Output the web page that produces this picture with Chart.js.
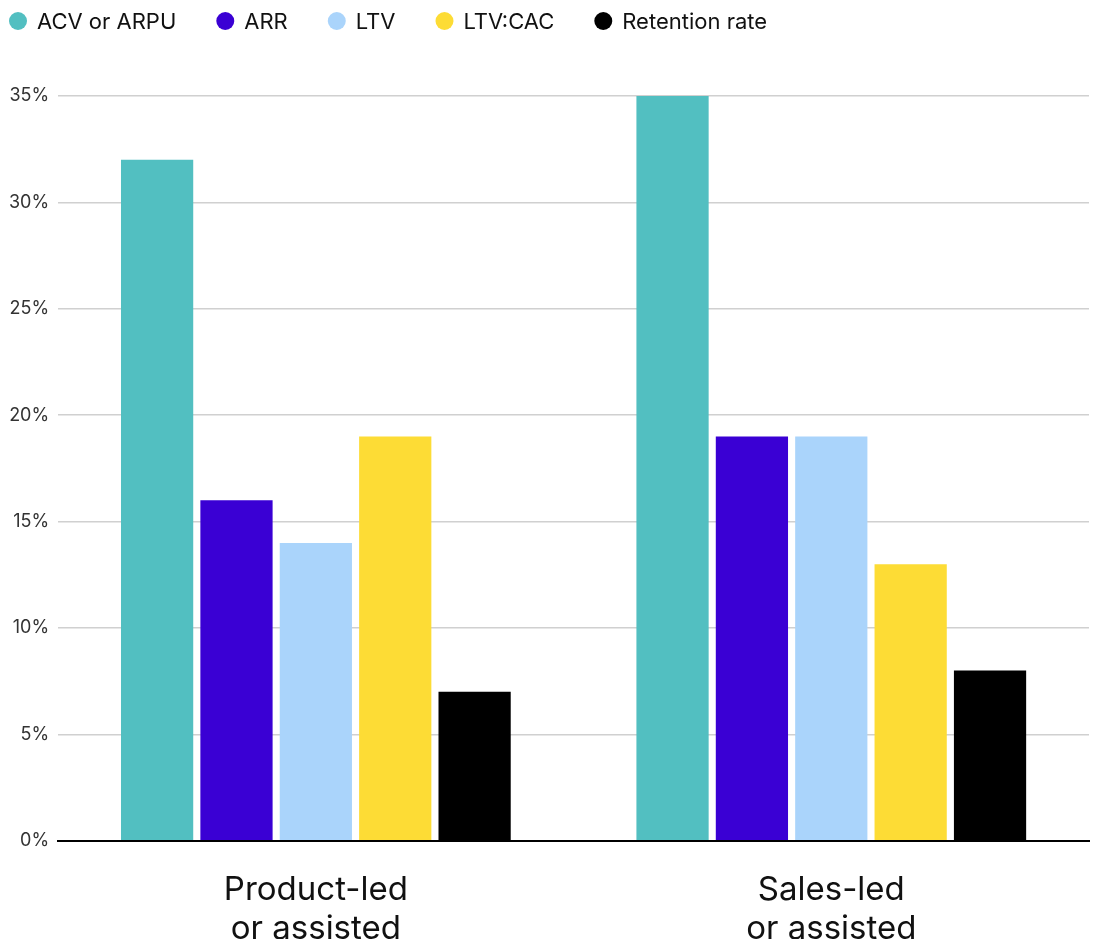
<!DOCTYPE html>
<html>
<head>
<meta charset="utf-8">
<script src="https://cdn.jsdelivr.net/npm/chart.js@4/dist/chart.umd.min.js"></script>
<style>
  html, body { margin: 0; padding: 0; background: #fff; }
  #wrap { width: 1093px; height: 939px; }
</style>
</head>
<body>
<div id="wrap"><canvas id="chart"></canvas></div>
<script>
const categories = [["Product-led", "or assisted"], ["Sales-led", "or assisted"]];
const seriesNames = ["ACV or ARPU", "ARR", "LTV", "LTV:CAC", "Retention rate"];
const acv = [32, 35];
const arr = [16, 19];
const ltv = [14, 19];
const ltvCac = [19, 13];
const retention = [7, 8];
const yTicks = [0, 5, 10, 15, 20, 25, 30, 35];
const colors = ["#52bfc1", "#3a00d4", "#aad4fb", "#fddc35", "#000000"];

const values = [acv, arr, ltv, ltvCac, retention];

// legend drawn in a row at the top, circles + labels
const topLegend = {
    id: 'topLegend',
    afterDraw(chart) {
        const ctx = chart.ctx;
        ctx.save();
        ctx.font = '22px Inter';
        ctx.textBaseline = 'middle';
        ctx.textAlign = 'left';
        let x = 9;
        const y = 21;
        chart.data.datasets.forEach(ds => {
            ctx.fillStyle = ds.backgroundColor;
            ctx.beginPath();
            ctx.arc(x + 9, y, 9, 0, Math.PI * 2);
            ctx.fill();
            ctx.fillStyle = '#111';
            ctx.fillText(ds.label, x + 28, y + 1);
            x += 28 + ctx.measureText(ds.label).width + 40;
        });
        ctx.restore();
    }
};

new Chart(document.getElementById("chart"), {
    type: 'bar',
    data: {
        labels: categories,
        datasets: seriesNames.map((name, i) => ({
            label: name,
            data: values[i],
            backgroundColor: colors[i],
            barPercentage: 0.91,
            categoryPercentage: 0.77
        }))
    },
    options: {
        responsive: true,
        maintainAspectRatio: false,
        animation: false,
        layout: { padding: { left: 0, right: 4, top: 96, bottom: -31 } },
        plugins: {
            tooltip: { enabled: false },
            legend: { display: false }
        },
        scales: {
            x: {
                grid: { display: false },
                border: { color: '#000', width: 2 },
                ticks: {
                    color: '#111',
                    padding: 21,
                    font: { family: 'Inter', size: 33, lineHeight: 1.2 }
                }
            },
            y: {
                min: 0,
                max: 35,
                afterBuildTicks: axis => { axis.ticks = yTicks.map(v => ({ value: v })); },
                grid: { color: '#d0d0d0', lineWidth: 1.5, drawTicks: false },
                border: { display: false },
                ticks: {
                    color: '#333',
                    padding: 9,
                    font: { family: 'Inter', size: 18 },
                    callback: v => v + '%'
                }
            }
        }
    },
    plugins: [topLegend]
});
</script>
</body>
</html>
